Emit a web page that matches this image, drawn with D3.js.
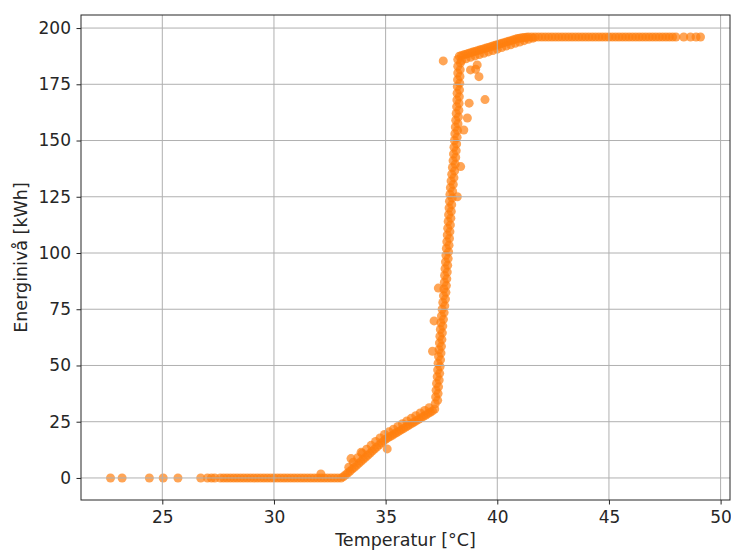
<!DOCTYPE html>
<html>
<head>
<meta charset="utf-8">
<script src="https://cdn.jsdelivr.net/npm/d3@7"></script>
<style>
  body { margin: 0; background: #fff; }
  text { font-family: "DejaVu Sans", sans-serif; fill: #262626; }
</style>
</head>
<body>
<div id="chart"></div>
<script>
// data: [temperatur °C, energinivå kWh]
var lowTail = [[22.68,0],[23.2,0],[24.42,0],[25.04,0],[25.7,0],[26.72,0],[27.02,0],[27.2,0],[27.35,0]];

var flatZero = [[27.6,0],[27.75,0],[27.9,0],[28.05,0],[28.2,0],[28.35,0],[28.5,0],[28.65,0],[28.8,0],[28.95,0],
  [29.1,0],[29.25,0],[29.4,0],[29.55,0],[29.7,0],[29.85,0],[30.0,0],[30.15,0],[30.3,0],[30.45,0],
  [30.6,0],[30.75,0],[30.9,0],[31.05,0],[31.2,0],[31.35,0],[31.5,0],[31.65,0],[31.8,0],[31.95,0],
  [32.1,0],[32.25,0],[32.4,0],[32.55,0],[32.7,0],[32.85,0],[33.0,0]];

var ramp = [[33.1,0.5],[33.2,1.3],[33.3,2.2],[33.4,3.0],[33.5,3.9],[33.6,4.7],[33.7,5.6],[33.8,6.5],[33.9,7.4],
  [34.0,8.3],[34.1,9.2],[34.2,10.1],[34.3,11.0],[34.4,11.9],[34.5,12.8],[34.6,13.7],[34.7,14.6],[34.8,15.5],
  [34.9,16.4],[35.0,17.2],[35.1,17.8],[35.2,18.4],[35.3,19.0],[35.4,19.6],[35.5,20.2],[35.6,20.8],[35.7,21.4],
  [35.8,22.0],[35.9,22.6],[36.0,23.2],[36.1,23.8],[36.2,24.4],[36.3,25.0],[36.4,25.6],[36.5,26.2],[36.6,26.8],
  [36.7,27.4],[36.8,28.0],[36.9,28.6],[37.0,29.2],[37.1,29.8],[37.2,30.6],
  [33.35,4.8],[33.55,7.0],[33.75,9.0],[33.95,11.0],[34.15,12.8],[34.35,14.5],[34.55,16.2],[34.75,17.8],[34.95,19.3],
  [35.15,20.5],[35.35,21.7],[35.55,22.9],[35.75,24.1],[35.95,25.3],[36.15,26.5],[36.35,27.7],[36.55,28.9],
  [36.75,30.0],[36.95,31.2]];

var steep = [[37.22,33],[37.24,36],[37.26,39],[37.28,42],[37.31,45],[37.33,48],[37.35,51],[37.37,54],[37.39,57],
  [37.41,60],[37.43,63],[37.45,66],[37.47,69],[37.50,72],[37.53,75],[37.56,78],[37.59,81],[37.61,84],[37.63,87],
  [37.64,90],[37.66,93],[37.68,96],[37.70,99],[37.72,102],[37.74,105],[37.76,108],[37.78,111],[37.80,114],
  [37.82,117],[37.84,120],[37.86,123],[37.88,126],[37.90,129],[37.93,132],[37.96,135],[37.99,138],[38.02,141],
  [38.04,144],[38.06,147],[38.08,150],[38.10,153],[38.12,156],[38.14,159],[38.16,162],[38.18,165],[38.19,168],
  [38.20,171],[38.21,174],[38.22,177],[38.23,180],[38.23,183],[38.23,186],
  [37.33,34.5],[37.35,37.5],[37.37,40.5],[37.40,43.5],[37.42,46.5],[37.44,49.5],[37.46,52.5],[37.48,55.5],
  [37.50,58.5],[37.52,61.5],[37.54,64.5],[37.56,67.5],[37.59,70.5],[37.62,73.5],[37.65,76.5],[37.68,79.5],
  [37.70,82.5],[37.72,85.5],[37.74,88.5],[37.76,91.5],[37.78,94.5],[37.80,97.5],[37.82,100.5],[37.84,103.5],
  [37.86,106.5],[37.88,109.5],[37.90,112.5],[37.92,115.5],[37.94,118.5],[37.96,121.5],[37.98,124.5],[38.00,127.5],
  [38.03,130.5],[38.06,133.5],[38.09,136.5],[38.12,139.5],[38.14,142.5],[38.16,145.5],[38.18,148.5],[38.20,151.5],
  [38.22,154.5],[38.24,157.5],[38.26,160.5],[38.28,163.5],[38.29,166.5],[38.30,169.5],[38.31,172.5],[38.32,175.5],
  [38.33,178.5],[38.34,181.5],[38.35,184.5]];

var knee = [[38.3,187.5],[38.4,187.8],[38.5,188.1],[38.6,188.4],[38.7,188.7],[38.8,189.0],[38.9,189.3],[39.0,189.6],
  [39.1,189.9],[39.2,190.2],[39.3,190.5],[39.4,190.8],[39.5,191.1],[39.6,191.4],[39.7,191.7],[39.8,192.0],
  [39.9,192.3],[40.0,192.6],[40.1,192.9],[40.2,193.2],[40.3,193.5],[40.4,193.8],[40.5,194.1],[40.6,194.4],
  [40.7,194.7],[40.8,195.0],[40.9,195.3],[41.0,195.5],[41.1,195.7],[41.2,195.8],[41.3,195.9],[41.4,196.0],
  [38.4,185.5],[38.6,186.3],[38.8,187.0],[39.0,187.6],[39.2,188.2],[39.4,188.8],[39.6,189.4],[39.8,190.0],
  [40.0,190.6],[40.2,191.3],[40.4,192.0],[40.6,192.6],[40.8,193.2],[41.0,193.8],[41.2,194.4],[41.4,195.0],[41.6,195.5]];

var plateau = [[41.55,196],[41.7,196],[41.85,196],[42.0,196],[42.15,196],[42.3,196],[42.45,196],[42.6,196],
  [42.75,196],[42.9,196],[43.05,196],[43.2,196],[43.35,196],[43.5,196],[43.65,196],[43.8,196],[43.95,196],
  [44.1,196],[44.25,196],[44.4,196],[44.55,196],[44.7,196],[44.85,196],[45.0,196],[45.15,196],[45.3,196],
  [45.45,196],[45.6,196],[45.75,196],[45.9,196],[46.05,196],[46.2,196],[46.35,196],[46.5,196],[46.65,196],
  [46.8,196],[46.95,196],[47.1,196],[47.25,196],[47.4,196],[47.55,196],[47.7,196],[47.85,196],[48.0,196],
  [48.35,196],[48.65,196],[48.9,196],[49.1,196]];

var outliers = [[32.1,1.8],[33.45,8.6],[33.9,11.4],[35.07,12.9],[37.17,69.8],[37.1,56.3],[37.36,84.4],
  [38.36,138.4],[38.21,125],[37.58,185.4],[39.45,168.2],[38.74,166.6],[38.66,160],[38.5,154.7],
  [39.1,183.6],[39.03,181.7],[39.18,178.4],[38.8,181.4]];

var xTicks = [25, 30, 35, 40, 45, 50];
var yTicks = [0, 25, 50, 75, 100, 125, 150, 175, 200];

var allPoints = lowTail.concat(flatZero, ramp, steep, knee, plateau, outliers);

var width = 731, height = 550;
var margin = {top: 15, right: 1, bottom: 50, left: 81};

var svg = d3.select("#chart").append("svg")
    .attr("width", width)
    .attr("height", height);

// matplotlib style 5% padding round the data
var xExt = d3.extent(allPoints, function(d) { return d[0]; });
var yExt = d3.extent(allPoints, function(d) { return d[1]; });
var xPad = (xExt[1] - xExt[0]) * 0.05, yPad = (yExt[1] - yExt[0]) * 0.05;

var x = d3.scaleLinear().domain([xExt[0] - xPad, xExt[1] + xPad]).range([margin.left, width - margin.right]);
var y = d3.scaleLinear().domain([yExt[0] - yPad, yExt[1] + yPad]).range([height - margin.bottom, margin.top]);

// points
svg.append("g").selectAll("circle")
    .data(allPoints)
    .enter()
    .append("circle")
    .attr("cx", function(d) { return x(d[0]); })
    .attr("cy", function(d) { return y(d[1]); })
    .attr("r", 4.5)
    .attr("fill", "#ff7f0e")
    .attr("fill-opacity", 0.7);

// grid (drawn over the points like matplotlib does)
svg.append("g").selectAll("line.gx")
    .data(xTicks)
    .enter().append("line")
    .attr("x1", function(d) { return x(d); })
    .attr("x2", function(d) { return x(d); })
    .attr("y1", margin.top)
    .attr("y2", height - margin.bottom)
    .attr("stroke", "#b0b0b0")
    .attr("stroke-width", 1);

svg.append("g").selectAll("line.gy")
    .data(yTicks)
    .enter().append("line")
    .attr("x1", margin.left)
    .attr("x2", width - margin.right)
    .attr("y1", function(d) { return y(d); })
    .attr("y2", function(d) { return y(d); })
    .attr("stroke", "#b0b0b0")
    .attr("stroke-width", 1);

// axes
var xAxis = svg.append("g")
    .attr("transform", "translate(0," + (height - margin.bottom) + ")")
    .call(d3.axisBottom(x).tickValues(xTicks).tickSize(4.5).tickPadding(6).tickFormat(d3.format("d")));

var yAxis = svg.append("g")
    .attr("transform", "translate(" + margin.left + ",0)")
    .call(d3.axisLeft(y).tickValues(yTicks).tickSize(4.5).tickPadding(5.5).tickFormat(d3.format("d")));

[xAxis, yAxis].forEach(function(a) {
  a.select(".domain").remove();
  a.selectAll(".tick line").attr("stroke", "#262626").attr("stroke-width", 1);
  a.selectAll(".tick text").style("font-size", "17px").attr("fill", "#262626");
});

// frame
svg.append("rect")
    .attr("x", margin.left)
    .attr("y", margin.top)
    .attr("width", width - margin.right - margin.left)
    .attr("height", height - margin.bottom - margin.top)
    .attr("fill", "none")
    .attr("stroke", "#262626")
    .attr("stroke-width", 1);

// labels
svg.append("text")
    .attr("x", (margin.left + width - margin.right) / 2)
    .attr("y", 546)
    .attr("text-anchor", "middle")
    .style("font-size", "17.5px")
    .text("Temperatur [°C]");

svg.append("text")
    .attr("transform", "translate(27," + ((margin.top + height - margin.bottom) / 2) + ") rotate(-90)")
    .attr("text-anchor", "middle")
    .style("font-size", "17.5px")
    .text("Energinivå [kWh]");
</script>
</body>
</html>
